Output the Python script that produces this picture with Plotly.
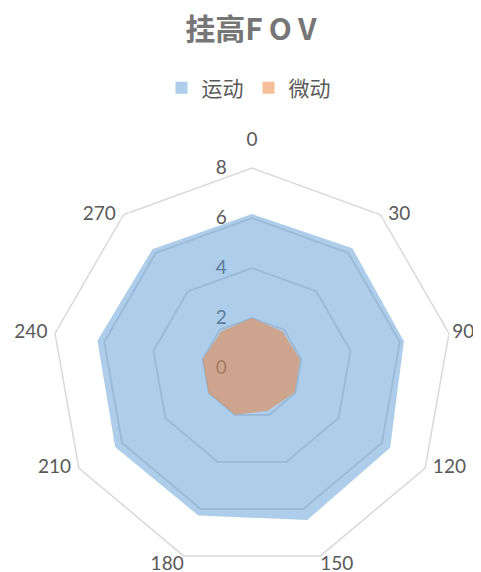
import plotly.graph_objects as go

# categorias (angulos)
angulos = ["0", "30", "90", "120", "150", "180", "210", "240", "270"]

# valores
yundong = [6.16, 6.25, 6.17, 6.38, 6.47, 6.28, 6.32, 6.28, 6.2]
weidong = [2.0, 1.9, 1.96, 1.97, 1.82, 1.99, 2.0, 2.0, 1.91]

azul = "rgba(91,155,213,0.5)"
naranja = "rgba(237,125,49,0.5)"
fuente = "Lato, Noto Sans CJK SC"

fig = go.Figure()

# areas
fig.add_trace(go.Scatterpolar(r=yundong + yundong[:1], theta=angulos + angulos[:1],
                              fill="toself", fillcolor=azul, mode="lines",
                              line=dict(width=0, color=azul), name="运动", showlegend=False))
fig.add_trace(go.Scatterpolar(r=weidong + weidong[:1], theta=angulos + angulos[:1],
                              fill="toself", fillcolor=naranja, mode="lines",
                              line=dict(width=0, color=naranja), name="微动", showlegend=False))

# etiquetas de angulo, en el borde del octagono
# (marcador invisible solo para separar el texto del vertice)
posiciones = ["top center", "middle right", "middle right", "middle right", "bottom right",
              "bottom left", "middle left", "middle left", "middle left"]
separacion = [26, 11, 4, 11, 0, 0, 11, 11, 11]
fig.add_trace(go.Scatterpolar(r=[7.99] * len(angulos), theta=angulos, mode="markers+text",
                              text=angulos, textposition=posiciones, cliponaxis=False,
                              marker=dict(size=separacion, color="rgba(0,0,0,0)"),
                              textfont=dict(size=19, color="#595959", family=fuente),
                              showlegend=False, hoverinfo="skip"))

# leyenda con cuadrados
fig.add_trace(go.Scatterpolar(r=[None], theta=[angulos[0]], mode="markers", name="运动",
                              marker=dict(symbol="square", size=12, color="#adcdea")))
fig.add_trace(go.Scatterpolar(r=[None], theta=[angulos[0]], mode="markers", name="微动",
                              marker=dict(symbol="square", size=12, color="#f6be98")))

fig.update_layout(
    width=481, height=572,
    margin=dict(l=0, r=0, t=0, b=0),
    paper_bgcolor="white",
    font=dict(family=fuente, color="#595959", size=19),
    title=dict(text="<b>挂高F\u2009O\u2009V</b>", x=0.505, xanchor="center", y=0.962, yanchor="middle",
               font=dict(size=30, color="#767676", family="Noto Sans CJK SC")),
    legend=dict(orientation="h", x=0.5, xanchor="center", y=0.86, yanchor="middle",
                font=dict(size=21, color="#595959", family="Noto Sans CJK SC"),
                itemwidth=30, tracegroupgap=0),
    polar=dict(
        domain=dict(x=[44 / 481, 444 / 481], y=[12 / 572, 412 / 572]),
        bgcolor="white",
        gridshape="linear",
        radialaxis=dict(range=[0, 8], dtick=2, angle=90, showline=False, tickangle=90,
                        gridcolor="#d9d9d9", gridwidth=1.5, layer="below traces",
                        side="counterclockwise", ticks="outside", ticklen=18,
                        tickcolor="rgba(0,0,0,0)", tickfont=dict(size=19, color="#595959")),
        angularaxis=dict(direction="clockwise", rotation=90, type="category",
                         showgrid=False, linecolor="#d9d9d9", linewidth=1.5,
                         layer="below traces", ticks="", showticklabels=False),
    ),
)

fig.write_html("out.html")
